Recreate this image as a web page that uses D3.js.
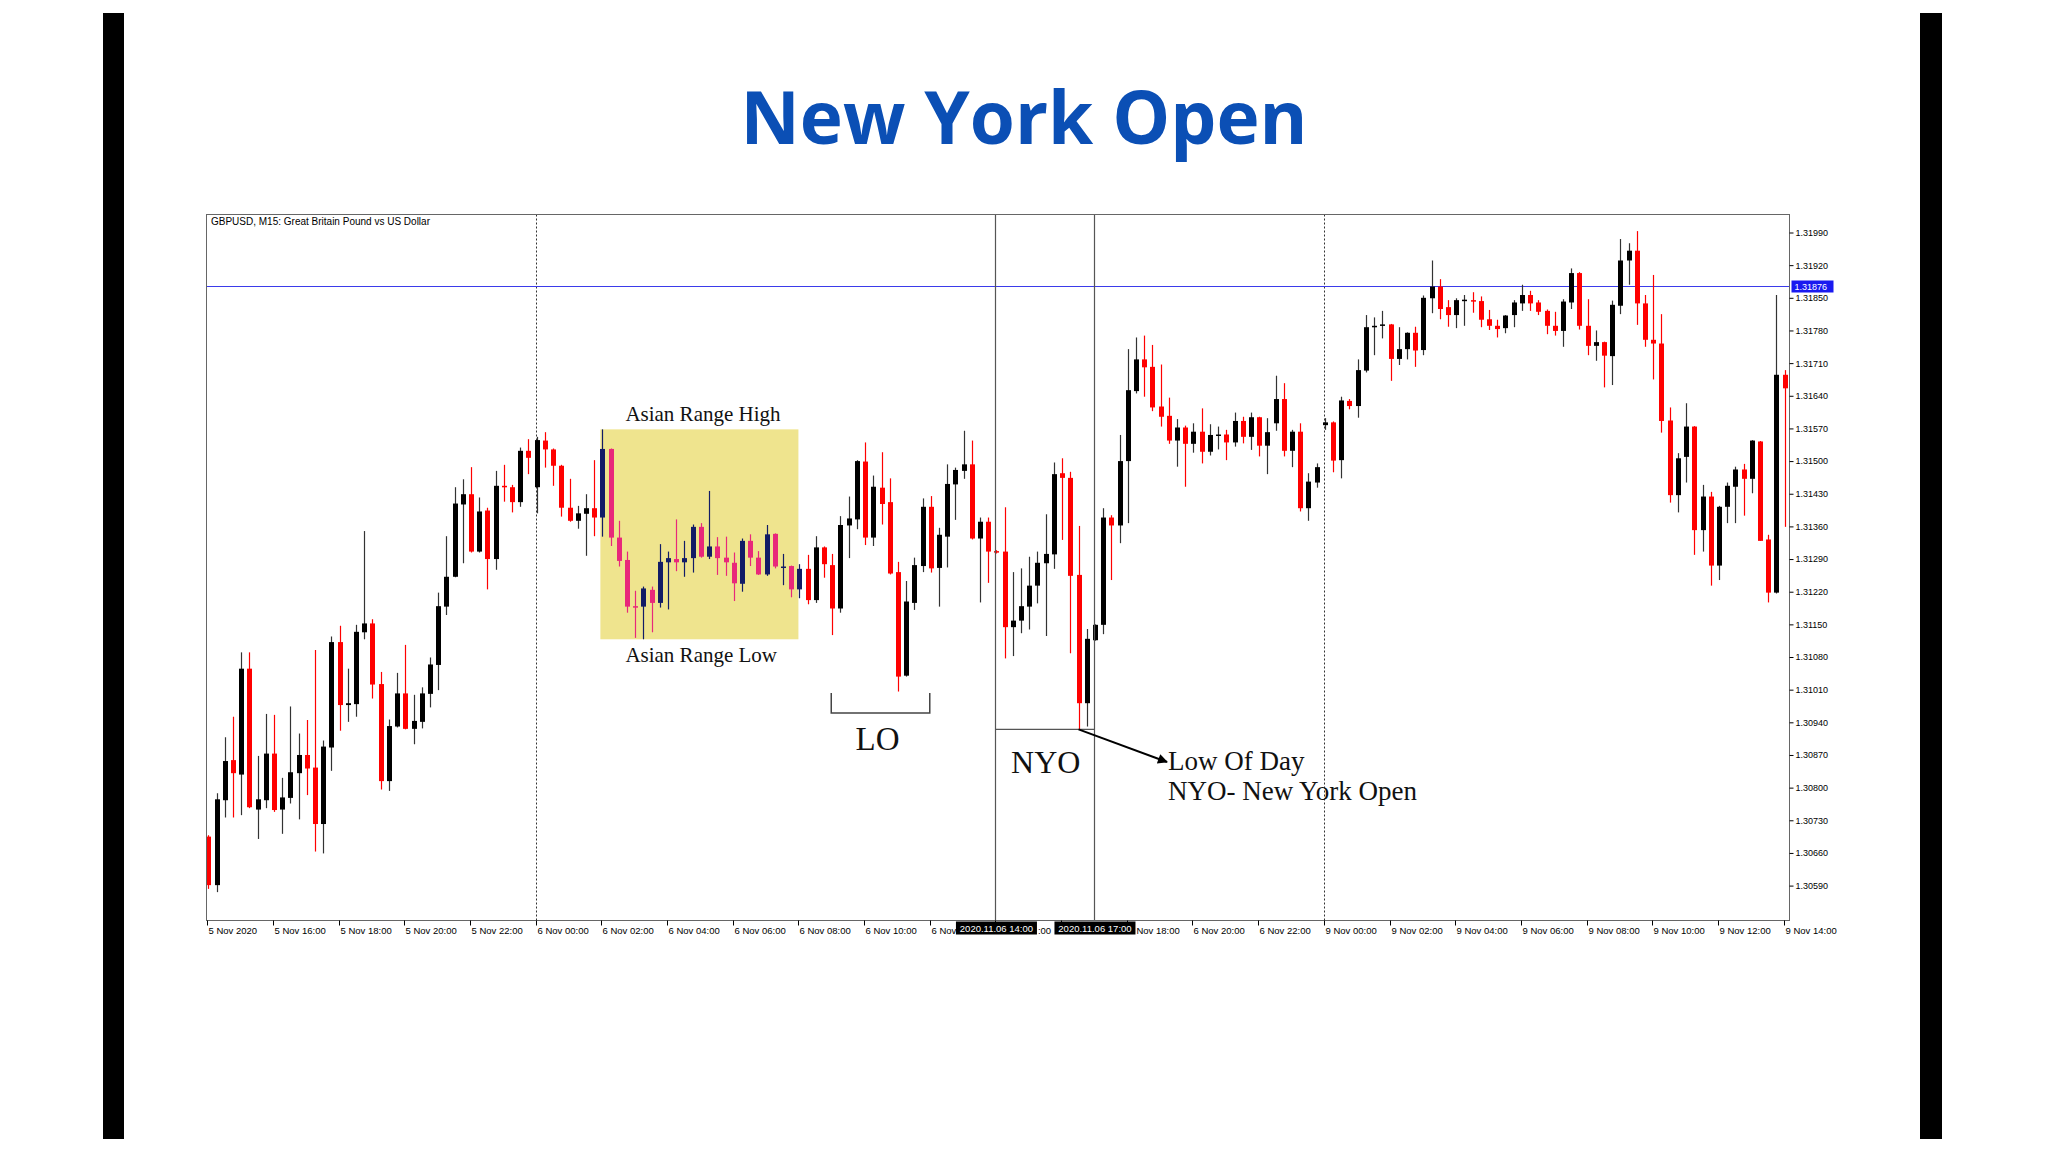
<!DOCTYPE html>
<html><head><meta charset="utf-8">
<script src="https://cdnjs.cloudflare.com/ajax/libs/d3/7.8.5/d3.min.js"></script>
<style>
html,body{margin:0;padding:0;background:#fff;}
svg{display:block;}
</style></head><body>
<svg id="c" width="2048" height="1152"></svg>
<script>
// ---------------- DATA ----------------
const chartTitle = "New York Open";
const symbolTitle = "GBPUSD, M15:  Great Britain Pound vs US Dollar";
const opens = [
1.30695,1.30591,1.30773,1.30859,1.30828,1.31055,1.30753,1.30773,1.30873,1.30753,
1.30778,1.30831,1.30870,1.30843,1.30722,1.30886,1.31112,1.30977,1.30979,1.31133,
1.31152,1.31022,1.30814,1.30931,1.31002,1.30926,1.30941,1.31001,1.31063,1.31188,
1.31252,1.31407,1.31429,1.31306,1.31394,1.31290,1.31447,1.31444,1.31412,1.31522,
1.31444,1.31544,1.31525,1.31490,1.31400,1.31372,1.31387,1.31399,1.31379,1.31526,
1.31336,1.31288,1.31189,1.31188,1.31224,1.31196,1.31283,1.31290,1.31283,1.31292,
1.31359,1.31295,1.31317,1.31293,1.31282,1.31237,1.31329,1.31293,1.31257,1.31344,
1.31272,1.31275,1.31225,1.31269,1.31202,1.31315,1.31277,1.31184,1.31362,1.31375,
1.31499,1.31336,1.31443,1.31412,1.31262,1.31040,1.31196,1.31275,1.31402,1.31271,
1.31338,1.31450,1.31479,1.31493,1.31334,1.31370,1.31307,1.31306,1.31144,1.31158,
1.31188,1.31233,1.31281,1.31300,1.31474,1.31464,1.31256,1.30981,1.31116,1.31149,
1.31379,1.31362,1.31500,1.31650,1.31718,1.31702,1.31617,1.31597,1.31544,1.31572,
1.31537,1.31563,1.31520,1.31555,1.31557,1.31540,1.31586,1.31552,1.31594,1.31533,
1.31581,1.31633,1.31522,1.31563,1.31399,1.31454,1.31577,1.31583,1.31502,1.31629,
1.31618,1.31694,1.31787,1.31790,1.31793,1.31719,1.31740,1.31775,1.31738,1.31849,
1.31874,1.31830,1.31813,1.31844,1.31845,1.31843,1.31804,1.31790,1.31785,1.31813,
1.31838,1.31856,1.31840,1.31822,1.31790,1.31779,1.31840,1.31903,1.31790,1.31747,
1.31755,1.31725,1.31833,1.31930,1.31951,1.31838,1.31760,1.31752,1.31587,1.31427,
1.31509,1.31574,1.31352,1.31424,1.31276,1.31402,1.31445,1.31482,1.31462,1.31542,
1.31332,1.31218,1.31685];
const highs = [
1.30698,1.30788,1.30908,1.30952,1.31090,1.31090,1.30868,1.30958,1.30956,1.30821,
1.30974,1.30916,1.30945,1.31095,1.30901,1.31124,1.31147,1.31055,1.31149,1.31350,
1.31161,1.31048,1.30946,1.31046,1.31106,1.30999,1.31015,1.31079,1.31218,1.31339,
1.31444,1.31461,1.31487,1.31422,1.31400,1.31479,1.31492,1.31449,1.31529,1.31547,
1.31552,1.31562,1.31527,1.31492,1.31462,1.31404,1.31429,1.31502,1.31568,1.31527,
1.31372,1.31306,1.31222,1.31231,1.31231,1.31322,1.31306,1.31375,1.31329,1.31364,
1.31367,1.31436,1.31337,1.31338,1.31304,1.31334,1.31343,1.31307,1.31363,1.31345,
1.31301,1.31276,1.31279,1.31299,1.31339,1.31317,1.31301,1.31382,1.31424,1.31502,
1.31540,1.31469,1.31519,1.31463,1.31284,1.31243,1.31293,1.31420,1.31425,1.31357,
1.31493,1.31486,1.31565,1.31544,1.31379,1.31379,1.31309,1.31401,1.31262,1.31270,
1.31295,1.31306,1.31386,1.31497,1.31506,1.31477,1.31361,1.31140,1.31150,1.31399,
1.31384,1.31556,1.31740,1.31765,1.31769,1.31749,1.31707,1.31636,1.31590,1.31576,
1.31581,1.31613,1.31579,1.31574,1.31567,1.31604,1.31595,1.31604,1.31595,1.31592,
1.31683,1.31667,1.31567,1.31581,1.31474,1.31495,1.31592,1.31585,1.31638,1.31633,
1.31718,1.31813,1.31808,1.31822,1.31794,1.31787,1.31776,1.31788,1.31855,1.31930,
1.31890,1.31845,1.31849,1.31856,1.31862,1.31853,1.31824,1.31803,1.31813,1.31845,
1.31878,1.31865,1.31845,1.31825,1.31820,1.31847,1.31913,1.31905,1.31847,1.31780,
1.31756,1.31844,1.31976,1.31967,1.31993,1.31856,1.31899,1.31815,1.31615,1.31517,
1.31624,1.31575,1.31449,1.31434,1.31404,1.31454,1.31488,1.31494,1.31545,1.31543,
1.31342,1.31856,1.31695];
const lows = [
1.30583,1.30576,1.30736,1.30736,1.30741,1.30756,1.30690,1.30756,1.30748,1.30701,
1.30766,1.30732,1.30784,1.30663,1.30659,1.30836,1.30922,1.30941,1.30952,1.31118,
1.30991,1.30796,1.30793,1.30929,1.30925,1.30893,1.30927,1.30972,1.31009,1.31170,
1.31251,1.31281,1.31304,1.31304,1.31225,1.31267,1.31413,1.31390,1.31402,1.31472,
1.31388,1.31486,1.31447,1.31381,1.31370,1.31355,1.31297,1.31339,1.31338,1.31318,
1.31274,1.31175,1.31121,1.31118,1.31133,1.31186,1.31182,1.31264,1.31252,1.31261,
1.31293,1.31290,1.31256,1.31254,1.31200,1.31220,1.31275,1.31256,1.31254,1.31270,
1.31234,1.31208,1.31206,1.31193,1.31196,1.31250,1.31127,1.31175,1.31292,1.31354,
1.31320,1.31318,1.31364,1.31257,1.31006,1.31038,1.31181,1.31262,1.31261,1.31188,
1.31272,1.31374,1.31462,1.31332,1.31197,1.31239,1.31302,1.31077,1.31082,1.31131,
1.31139,1.31195,1.31125,1.31269,1.31331,1.31088,1.30925,1.30931,1.31115,1.31129,
1.31245,1.31324,1.31367,1.31645,1.31638,1.31607,1.31574,1.31537,1.31488,1.31445,
1.31518,1.31495,1.31512,1.31525,1.31502,1.31531,1.31538,1.31524,1.31510,1.31472,
1.31565,1.31510,1.31487,1.31392,1.31372,1.31443,1.31567,1.31476,1.31463,1.31611,
1.31593,1.31690,1.31727,1.31763,1.31672,1.31706,1.31718,1.31702,1.31727,1.31817,
1.31804,1.31788,1.31785,1.31790,1.31818,1.31787,1.31781,1.31765,1.31774,1.31787,
1.31822,1.31822,1.31813,1.31772,1.31769,1.31745,1.31826,1.31782,1.31727,1.31715,
1.31658,1.31663,1.31815,1.31878,1.31792,1.31745,1.31675,1.31561,1.31411,1.31390,
1.31454,1.31299,1.31306,1.31233,1.31245,1.31367,1.31367,1.31383,1.31431,1.31329,
1.31197,1.31216,1.31359];
const closes = [
1.30591,1.30775,1.30857,1.30831,1.31055,1.30758,1.30775,1.30873,1.30752,1.30779,
1.30833,1.30870,1.30841,1.30722,1.30888,1.31112,1.30977,1.30981,1.31134,1.31152,
1.31021,1.30814,1.30932,1.31002,1.30926,1.30943,1.31002,1.31064,1.31189,1.31252,
1.31409,1.31429,1.31306,1.31392,1.31290,1.31447,1.31444,1.31412,1.31522,1.31507,
1.31545,1.31525,1.31490,1.31400,1.31372,1.31388,1.31399,1.31379,1.31526,1.31336,
1.31286,1.31188,1.31187,1.31227,1.31196,1.31284,1.31292,1.31283,1.31292,1.31359,
1.31295,1.31317,1.31292,1.31283,1.31238,1.31329,1.31293,1.31257,1.31343,1.31274,
1.31274,1.31225,1.31269,1.31202,1.31315,1.31279,1.31184,1.31363,1.31377,1.31500,
1.31336,1.31445,1.31408,1.31259,1.31038,1.31199,1.31277,1.31402,1.31270,1.31342,
1.31451,1.31481,1.31493,1.31334,1.31370,1.31306,1.31304,1.31144,1.31158,1.31189,
1.31233,1.31282,1.31301,1.31472,1.31464,1.31254,1.30981,1.31119,1.31149,1.31379,
1.31362,1.31500,1.31652,1.31718,1.31701,1.31615,1.31595,1.31544,1.31572,1.31537,
1.31563,1.31520,1.31556,1.31557,1.31540,1.31586,1.31552,1.31594,1.31533,1.31562,
1.31633,1.31522,1.31563,1.31399,1.31456,1.31487,1.31583,1.31501,1.31630,1.31618,
1.31695,1.31787,1.31790,1.31793,1.31719,1.31740,1.31775,1.31737,1.31850,1.31874,
1.31826,1.31813,1.31845,1.31846,1.31842,1.31803,1.31790,1.31783,1.31812,1.31840,
1.31856,1.31838,1.31820,1.31790,1.31779,1.31842,1.31903,1.31790,1.31747,1.31755,
1.31726,1.31835,1.31930,1.31951,1.31838,1.31760,1.31752,1.31586,1.31427,1.31506,
1.31574,1.31352,1.31424,1.31276,1.31402,1.31447,1.31482,1.31462,1.31544,1.31329,
1.31218,1.31685,1.31656];
// one label every 8 bars (2 hours of M15); parts hidden behind the time boxes are left out
const xTickLabels = ["5 Nov 2020","5 Nov 16:00","5 Nov 18:00","5 Nov 20:00","5 Nov 22:00",
"6 Nov 00:00","6 Nov 02:00","6 Nov 04:00","6 Nov 06:00","6 Nov 08:00","6 Nov 10:00",
"6 Nov","",""," Nov 18:00","6 Nov 20:00","6 Nov 22:00",
"9 Nov 00:00","9 Nov 02:00","9 Nov 04:00","9 Nov 06:00","9 Nov 08:00","9 Nov 10:00",
"9 Nov 12:00","9 Nov 14:00"];
const yTickValues = [1.30590,1.30660,1.30730,1.30800,1.30870,1.30940,1.31010,1.31080,
1.31150,1.31220,1.31290,1.31360,1.31430,1.31500,1.31570,1.31640,1.31710,1.31780,
1.31850,1.31920,1.31990];
const hLinePrice = 1.31876;
const daySeparatorBars = [40, 136];
const sessionBars = [96, 108];           // 14:00 and 17:00 markers
const sessionLabels = ["2020.11.06 14:00","2020.11.06 17:00"];
const sessionTail = ":00";               // visible tail of the "6 Nov 14:00" label
const asianBars = [48, 72];
const londonBars = [76, 88];

// ---------------- LAYOUT ----------------
const svg = d3.select("#c");
const F = {l:206.5, r:1789.5, t:214.5, b:920.5};
const x = d3.scaleLinear().domain([0, opens.length-1]).range([208.3, 1784.6]);
const y = d3.scaleLinear().domain([1.30590, 1.31990]).range([885.6, 232.5]);
const bars = opens.map((o,i)=>({i, o, h:highs[i], l:lows[i], c:closes[i]}));
const sans = "'Liberation Sans',Arial,sans-serif";

svg.append("rect").attr("width",2048).attr("height",1152).attr("fill","#fff");
// side bars
svg.append("rect").attr("x",103).attr("y",13).attr("width",21).attr("height",1126).attr("fill","#000");
svg.append("rect").attr("x",1920).attr("y",13).attr("width",22).attr("height",1126).attr("fill","#000");

// title
const title = svg.append("text").attr("x",1024).attr("y",144).attr("text-anchor","middle")
  .style("font-family","'Open Sans','Noto Sans',sans-serif").style("font-weight","700")
  .style("font-size","77px").attr("fill","#0b4fb5").text(chartTitle);
const tl = title.node().getComputedTextLength();
title.style("font-size", (77*567/tl).toFixed(2)+"px");

// asian range rectangle
const aSlice = bars.slice(asianBars[0], asianBars[1]+1);
const aHigh = d3.max(aSlice, d=>d.h), aLow = d3.min(aSlice, d=>d.l);
svg.append("rect").attr("x", x(asianBars[0])-2).attr("y", y(aHigh))
  .attr("width", x(asianBars[1])-1-(x(asianBars[0])-2)).attr("height", y(aLow)-y(aHigh))
  .attr("fill","#efe48e");

// separators
daySeparatorBars.forEach(b=>{
  const xx = Math.round(x(b))-0.5;
  svg.append("line").attr("x1",xx).attr("x2",xx).attr("y1",F.t).attr("y2",F.b)
    .attr("stroke","#333").attr("stroke-width",1).attr("stroke-dasharray","2,2");
});
// horizontal price line
svg.append("line").attr("x1",F.l).attr("x2",F.r).attr("y1",Math.round(y(hLinePrice))+0.5).attr("y2",Math.round(y(hLinePrice))+0.5)
  .attr("stroke","#3b3bea").attr("stroke-width",1.2);

// candles
const inBox = i => i>=asianBars[0] && i<=asianBars[1];
const col = d => {
  const bull = d.c >= d.o;
  if (inBox(d.i)) return bull ? "#121c66" : "#e8287a";
  return bull ? "#000" : "#ff0000";
};
const g = svg.append("g");
g.selectAll("line.w").data(bars).join("line").attr("class","w")
  .attr("x1",d=>Math.round(x(d.i))+0.5).attr("x2",d=>Math.round(x(d.i))+0.5)
  .attr("y1",d=>y(d.h)).attr("y2",d=>y(d.l))
  .attr("stroke",d=> (d.c>=d.o && !inBox(d.i)) ? "#333" : col(d)).attr("stroke-width",1.2);
g.selectAll("rect.b").data(bars).join("rect").attr("class","b")
  .attr("x",d=>Math.round(x(d.i))-2).attr("width",5)
  .attr("y",d=>y(Math.max(d.o,d.c)))
  .attr("height",d=>Math.max(1.5, Math.abs(y(d.o)-y(d.c))))
  .attr("fill",col);

// session vertical lines
sessionBars.forEach(b=>{
  const xx = Math.round(x(b))-0.5;
  svg.append("line").attr("x1",xx).attr("x2",xx).attr("y1",F.t).attr("y2",F.b)
    .attr("stroke","#555").attr("stroke-width",1.2);
});
// low of day line in NY window
const nySlice = bars.slice(sessionBars[0], sessionBars[1]+1);
const lowBar = nySlice.reduce((a,b)=> b.l<a.l ? b : a);
const ly = y(lowBar.l);
svg.append("line").attr("x1",Math.round(x(sessionBars[0]))-0.5).attr("x2",Math.round(x(sessionBars[1]))-0.5)
  .attr("y1",ly).attr("y2",ly).attr("stroke","#555").attr("stroke-width",1.2);

// arrow
svg.append("defs").append("marker").attr("id","ah").attr("viewBox","0 0 10 10")
  .attr("refX",9).attr("refY",5).attr("markerWidth",12).attr("markerHeight",10).attr("orient","auto")
  .attr("markerUnits","userSpaceOnUse")
  .append("path").attr("d","M0,0 L10,5 L0,10 z").attr("fill","#000");
svg.append("line").attr("x1",x(lowBar.i)).attr("y1",ly).attr("x2",1167).attr("y2",762)
  .attr("stroke","#000").attr("stroke-width",2).attr("marker-end","url(#ah)");

// LO bracket
const bx1 = x(londonBars[0])-1, bx2 = x(londonBars[1])-1;
svg.append("path").attr("d",`M${bx1},693 V713 H${bx2} V693`).attr("fill","none")
  .attr("stroke","#444").attr("stroke-width",1.5);

// annotation texts
const serif = "'Liberation Serif','Times New Roman',serif";
const ann = (t,xx,yy,size,anchor) => svg.append("text").attr("x",xx).attr("y",yy)
  .attr("text-anchor",anchor||"start").style("font-family",serif).style("font-size",size+"px")
  .attr("fill","#111").text(t);
ann("Asian Range High", x(asianBars[0])+23, y(aHigh)-8, 21);
ann("Asian Range Low", x(asianBars[0])+23, y(aLow)+23, 21);
ann("LO", (bx1+bx2)/2-3, 750, 33, "middle");
ann("NYO", (x(sessionBars[0])+x(sessionBars[1]))/2, 773, 32, "middle");
ann("Low Of Day", 1168, 770, 27);
ann("NYO- New York Open", 1168, 800, 27);

// frame
svg.append("rect").attr("x",F.l).attr("y",F.t).attr("width",F.r-F.l).attr("height",F.b-F.t)
  .attr("fill","none").attr("stroke","#666").attr("stroke-width",1);
svg.append("text").attr("x",211).attr("y",225).style("font-family",sans)
  .style("font-size","10px").attr("fill","#000").text(symbolTitle);

// y axis
const gy = svg.append("g").attr("transform",`translate(${F.r},0)`)
  .call(d3.axisRight(y).tickValues(yTickValues).tickFormat(d3.format(".5f")).tickSize(4).tickPadding(2));
gy.select(".domain").remove();
gy.attr("font-family",sans).attr("font-size",9);
gy.selectAll("line").attr("stroke","#000");
gy.selectAll("text").attr("fill","#000");
// current price label
const py = Math.round(y(hLinePrice))+0.5;
svg.append("rect").attr("x",F.r+2).attr("y",py-6).attr("width",42).attr("height",12).attr("fill","#1a1af0");
svg.append("text").attr("x",F.r+5).attr("y",py).attr("dy","0.35em")
  .style("font-family",sans).style("font-size","9px")
  .attr("fill","#fff").text(d3.format(".5f")(hLinePrice));

// x axis
const gx = svg.append("g").style("font-family",sans).style("font-size","9.5px");
const boxHalf = 40.5;
xTickLabels.forEach((t,k)=>{
  const xx = Math.round(x(k*8))-0.5;
  gx.append("line").attr("x1",xx).attr("x2",xx).attr("y1",F.b).attr("y2",F.b+5).attr("stroke","#000");
  if (!t) return;
  // a label whose start is hidden by a time box starts right after that box
  let tx = xx+1;
  sessionBars.forEach(b=>{ const bx = x(b); if (xx > bx-boxHalf && xx < bx+boxHalf) tx = bx+boxHalf+1; });
  gx.append("text").attr("x",tx).attr("y",F.b+13).attr("fill","#000").text(t);
});
gx.append("text").attr("x",x(sessionBars[0])+boxHalf+1).attr("y",F.b+13).attr("fill","#000").text(sessionTail);
// session time boxes
sessionBars.forEach((b,k)=>{
  const xx = x(b);
  gx.append("rect").attr("x",xx-boxHalf).attr("y",F.b+1).attr("width",boxHalf*2).attr("height",13).attr("fill","#000");
  gx.append("text").attr("x",xx).attr("y",F.b+11).attr("text-anchor","middle").attr("fill","#fff").text(sessionLabels[k]);
});
</script>
</body></html>
